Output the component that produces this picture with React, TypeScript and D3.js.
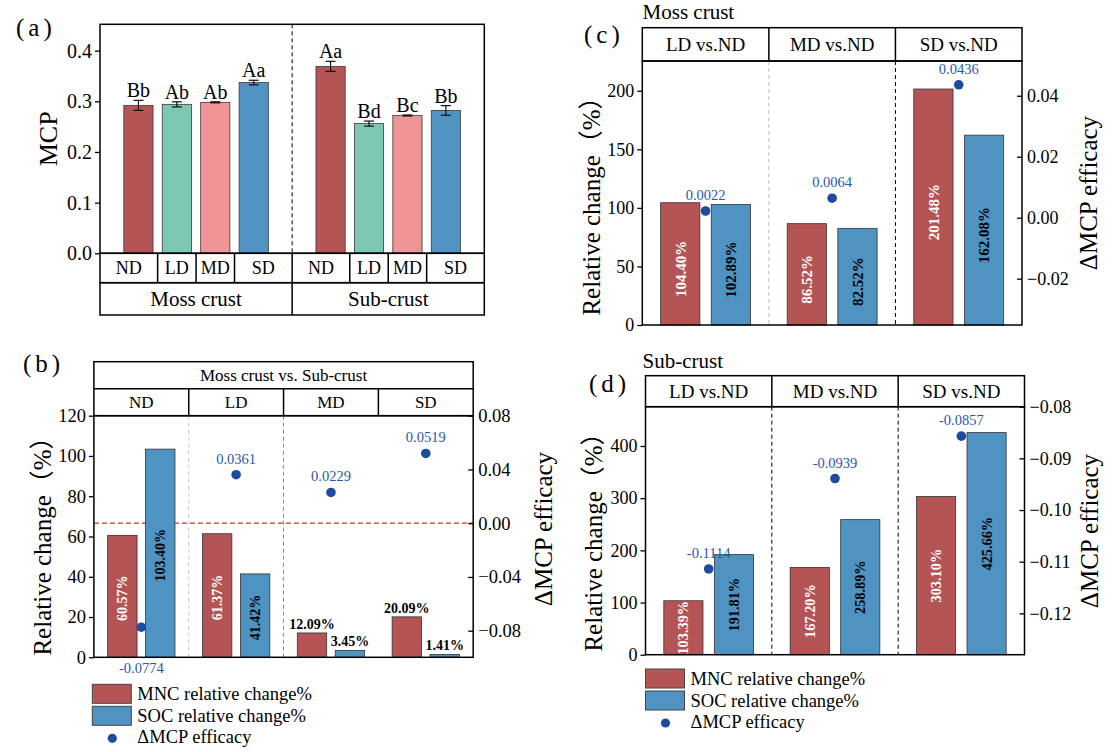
import { useEffect, useRef } from "react";
import * as d3 from "d3";

// (a) MCP by layer and treatment
const treatments = ["ND", "LD", "MD", "SD"];
const layers = ["Moss crust", "Sub-crust"];
const mcpMoss = [0.292, 0.294, 0.298, 0.337];
const mcpMossErr = [0.0099, 0.005, 0.001, 0.0045];
const mcpMossLetters = ["Bb", "Ab", "Ab", "Aa"];
const mcpSub = [0.369, 0.256, 0.272, 0.282];
const mcpSubErr = [0.0099, 0.005, 0.001, 0.0095];
const mcpSubLetters = ["Aa", "Bd", "Bc", "Bb"];

// (b) moss crust vs. sub-crust
const bGroups = ["ND", "LD", "MD", "SD"];
const bMnc = [60.57, 61.37, 12.09, 20.09];
const bSoc = [103.4, 41.42, 3.45, 1.41];
const bDelta = [-0.0774, 0.0361, 0.0229, 0.0519];

// (c) moss crust, (d) sub-crust
const contrasts = ["LD vs.ND", "MD vs.ND", "SD vs.ND"];
const cMnc = [104.4, 86.52, 201.48];
const cSoc = [102.89, 82.52, 162.08];
const cDelta = [0.0022, 0.0064, 0.0436];
const dMnc = [103.39, 167.2, 303.1];
const dSoc = [191.81, 258.89, 425.66];
const dDelta = [-0.1114, -0.0939, -0.0857];

const FONT = "'Liberation Serif', 'Times New Roman', 'Noto Sans CJK SC', serif";
const RED = "#b55455";
const TEAL = "#7cc8b2";
const PINK = "#f09495";
const BLUE = "#4f93c3";
const DOT = "#1d4c9e";
const DOT_TXT = "#2a58ac";
const TREAT_COLORS = [RED, TEAL, PINK, BLUE];

type G = d3.Selection<SVGGElement, unknown, null, undefined>;

function styleAxis(ax: G, size: number) {
  ax.select(".domain").remove();
  ax.selectAll("line").attr("stroke", "#000").attr("stroke-width", 1.3);
  ax.selectAll("text").attr("font-family", FONT).attr("font-size", size).attr("fill", "#000");
}

function panelLetter(g: G, text: string, x: number, y: number) {
  g.append("text").attr("x", x).attr("y", y).attr("font-size", 25)
    .attr("letter-spacing", 4).text(text);
}

function drawPanelA(g: G) {
  const L = 100, R = 484.3, T = 24.3, B = 253.3, row1 = 282.7, row2 = 315;
  const x = d3.scaleLinear().domain([0, 10]).range([L, R]);
  const y = d3.scaleLinear().domain([0, 0.452]).range([B, T]);
  const bw = (x(1) - x(0)) * 0.76;

  const bars = [
    ...mcpMoss.map((v, i) => ({ pos: i + 1, v, e: mcpMossErr[i], lab: mcpMossLetters[i], c: TREAT_COLORS[i] })),
    ...mcpSub.map((v, i) => ({ pos: i + 6, v, e: mcpSubErr[i], lab: mcpSubLetters[i], c: TREAT_COLORS[i] })),
  ];

  g.append("g").selectAll("rect").data(bars).join("rect")
    .attr("x", (d) => x(d.pos) - bw / 2).attr("y", (d) => y(d.v))
    .attr("width", bw).attr("height", (d) => B - y(d.v))
    .attr("fill", (d) => d.c).attr("stroke", "#3a3a3a").attr("stroke-width", 0.8);

  const eb = g.append("g").attr("stroke", "#111").attr("stroke-width", 1.2);
  bars.forEach((d) => {
    eb.append("line").attr("x1", x(d.pos)).attr("x2", x(d.pos)).attr("y1", y(d.v - d.e)).attr("y2", y(d.v + d.e));
    [d.v - d.e, d.v + d.e].forEach((v) =>
      eb.append("line").attr("x1", x(d.pos) - 5).attr("x2", x(d.pos) + 5).attr("y1", y(v)).attr("y2", y(v)));
  });

  g.append("g").selectAll("text").data(bars).join("text")
    .attr("x", (d) => x(d.pos)).attr("y", (d) => y(d.v + d.e) - 3)
    .attr("text-anchor", "middle").attr("font-size", 20).text((d) => d.lab);

  g.append("line").attr("x1", x(5)).attr("x2", x(5)).attr("y1", T).attr("y2", B)
    .attr("stroke", "#000").attr("stroke-dasharray", "4,3");

  g.append("rect").attr("x", L).attr("y", T).attr("width", R - L).attr("height", B - T)
    .attr("fill", "none").attr("stroke", "#000").attr("stroke-width", 1.5);

  const ax = g.append("g").attr("transform", `translate(${L},0)`)
    .call(d3.axisLeft(y).tickValues([0, 0.1, 0.2, 0.3, 0.4]).tickFormat(d3.format(".1f")).tickSize(5).tickPadding(3));
  styleAxis(ax, 20);

  // category rows
  const rows = g.append("g").attr("fill", "none").attr("stroke", "#000").attr("stroke-width", 1.5);
  rows.append("rect").attr("x", L).attr("y", B).attr("width", R - L).attr("height", row1 - B);
  rows.append("rect").attr("x", L).attr("y", row1).attr("width", R - L).attr("height", row2 - row1);
  const cuts = [0, 1.5, 2.5, 3.5, 5, 6.5, 7.5, 8.5, 10];
  cuts.slice(1, -1).forEach((c) =>
    rows.append("line").attr("x1", x(c)).attr("x2", x(c)).attr("y1", B).attr("y2", c === 5 ? row2 : row1));
  const cellLabels = [...treatments, ...treatments];
  cellLabels.forEach((t, i) =>
    g.append("text").attr("x", x((cuts[i] + cuts[i + 1]) / 2)).attr("y", (B + row1) / 2).attr("dy", "0.35em")
      .attr("text-anchor", "middle").attr("font-size", 18).text(t));
  layers.forEach((t, i) =>
    g.append("text").attr("x", x(i * 5 + 2.5)).attr("y", (row1 + row2) / 2).attr("dy", "0.35em")
      .attr("text-anchor", "middle").attr("font-size", 21).text(t));

  g.append("text").attr("transform", `translate(48,${(T + B) / 2}) rotate(-90)`).attr("dy", "0.35em")
    .attr("text-anchor", "middle").attr("font-size", 26).text("MCP");
  panelLetter(g, "(a)", 16, 36);
}

interface CompareCfg {
  left: number; right: number; headerTop: number; split?: number; top: number; bottom: number;
  groups: string[]; mnc: number[]; soc: number[]; delta: number[];
  yMax: number; leftTicks: number[];
  rDomain: [number, number]; rightTicks: number[];
  dividers: (string | null)[];
  zeroLine?: boolean;
  headerTitle?: string;
  panelTitle?: { text: string; x: number; y: number };
  letter: { text: string; x: number; y: number };
  leftTitle: { x: number; y: number };
  rightTitle: { x: number; y: number };
  tickFont: number; barFont: number; headerFont: number; barShift: number;
  labelBelowAxis?: number[];
}

function drawCompare(g: G, cfg: CompareCfg) {
  const { left: L, right: R, top: T, bottom: B } = cfg;
  const band = d3.scaleBand<string>().domain(cfg.groups).range([L, R]);
  const bw = band.bandwidth();
  const y = d3.scaleLinear().domain([0, cfg.yMax]).range([B, T]);
  const yr = d3.scaleLinear().domain(cfg.rDomain).range([B, T]);
  const barW = bw * 0.31;
  const gc = (gr: string) => (band(gr) ?? 0) + bw / 2;

  // dividers
  cfg.dividers.forEach((col, i) => {
    if (!col) return;
    const xx = band(cfg.groups[i + 1]) ?? 0;
    g.append("line").attr("x1", xx).attr("x2", xx).attr("y1", T).attr("y2", B)
      .attr("stroke", col).attr("stroke-dasharray", "4,3").attr("stroke-width", 1);
  });

  if (cfg.zeroLine) {
    g.append("line").attr("x1", L).attr("x2", R).attr("y1", yr(0)).attr("y2", yr(0))
      .attr("stroke", "#e0262a").attr("stroke-dasharray", "5,3").attr("stroke-width", 1.2);
  }

  const bars = [
    ...cfg.mnc.map((v, i) => ({ gr: cfg.groups[i], v, off: -0.2, fill: RED, txt: "#fff" })),
    ...cfg.soc.map((v, i) => ({ gr: cfg.groups[i], v, off: 0.2, fill: BLUE, txt: "#000" })),
  ];
  const cx = (d: { gr: string; off: number }) => gc(d.gr) + d.off * bw;

  g.append("g").selectAll("rect").data(bars).join("rect")
    .attr("x", (d) => cx(d) - barW / 2).attr("y", (d) => y(d.v))
    .attr("width", barW).attr("height", (d) => B - y(d.v))
    .attr("fill", (d) => d.fill).attr("stroke", "#333").attr("stroke-width", 0.8);

  const lab = (v: number) => `${v.toFixed(2)}%`;
  bars.forEach((d) => {
    const h = B - y(d.v);
    if (h > 48) {
      g.append("text").attr("transform", `translate(${cx(d)},${(B + y(d.v)) / 2 + cfg.barShift}) rotate(-90)`)
        .attr("dy", "0.35em").attr("text-anchor", "middle").attr("font-weight", "bold")
        .attr("font-size", cfg.barFont).attr("fill", d.txt).text(lab(d.v));
    } else {
      g.append("text").attr("x", cx(d)).attr("y", y(d.v) - 4).attr("text-anchor", "middle")
        .attr("font-weight", "bold").attr("font-size", cfg.barFont).attr("fill", "#000").text(lab(d.v));
    }
  });

  // delta MCP dots
  cfg.delta.forEach((v, i) => {
    const xx = gc(cfg.groups[i]);
    g.append("circle").attr("cx", xx).attr("cy", yr(v)).attr("r", 4.8).attr("fill", DOT);
    const below = cfg.labelBelowAxis?.includes(i);
    g.append("text").attr("x", xx).attr("y", below ? B + 16 : yr(v) - 11)
      .attr("text-anchor", "middle").attr("font-size", 14.5).attr("fill", DOT_TXT).text(v.toFixed(4));
  });

  // frame
  g.append("rect").attr("x", L).attr("y", T).attr("width", R - L).attr("height", B - T)
    .attr("fill", "none").attr("stroke", "#000").attr("stroke-width", 1.5);

  // header
  const hd = g.append("g").attr("fill", "none").attr("stroke", "#000").attr("stroke-width", 1.5);
  hd.append("rect").attr("x", L).attr("y", cfg.headerTop).attr("width", R - L).attr("height", T - cfg.headerTop);
  const rowTop = cfg.split ?? cfg.headerTop;
  if (cfg.split) hd.append("line").attr("x1", L).attr("x2", R).attr("y1", cfg.split).attr("y2", cfg.split);
  cfg.groups.slice(1).forEach((gr) => {
    const xx = band(gr) ?? 0;
    hd.append("line").attr("x1", xx).attr("x2", xx).attr("y1", rowTop).attr("y2", T);
  });
  if (cfg.headerTitle && cfg.split) {
    g.append("text").attr("x", (L + R) / 2).attr("y", (cfg.headerTop + cfg.split) / 2).attr("dy", "0.35em")
      .attr("text-anchor", "middle").attr("font-size", 17).text(cfg.headerTitle);
  }
  cfg.groups.forEach((gr) =>
    g.append("text").attr("x", gc(gr)).attr("y", (rowTop + T) / 2).attr("dy", "0.35em")
      .attr("text-anchor", "middle").attr("font-size", cfg.headerFont).text(gr));

  // axes
  const axL = g.append("g").attr("transform", `translate(${L},0)`)
    .call(d3.axisLeft(y).tickValues(cfg.leftTicks).tickFormat(d3.format("d")).tickSize(5).tickPadding(3));
  styleAxis(axL, cfg.tickFont);
  const axR = g.append("g").attr("transform", `translate(${R},0)`)
    .call(d3.axisRight(yr).tickValues(cfg.rightTicks).tickFormat(d3.format(".2f")).tickSize(-5).tickPadding(5));
  styleAxis(axR, cfg.tickFont);

  g.append("text").attr("transform", `translate(${cfg.leftTitle.x},${cfg.leftTitle.y}) rotate(-90)`)
    .attr("dy", "0.35em").attr("text-anchor", "middle").attr("font-size", 25).text("Relative change（%）");
  g.append("text").attr("transform", `translate(${cfg.rightTitle.x},${cfg.rightTitle.y}) rotate(-90)`)
    .attr("dy", "0.35em").attr("text-anchor", "middle").attr("font-size", 25).text("ΔMCP efficacy");

  panelLetter(g, cfg.letter.text, cfg.letter.x, cfg.letter.y);
  if (cfg.panelTitle) {
    g.append("text").attr("x", cfg.panelTitle.x).attr("y", cfg.panelTitle.y).attr("font-size", 21)
      .text(cfg.panelTitle.text);
  }
}

function drawLegend(g: G, x: number, y: number) {
  const items = [
    { t: "MNC relative change%", fill: RED },
    { t: "SOC relative change%", fill: BLUE },
  ];
  items.forEach((it, i) => {
    g.append("rect").attr("x", x).attr("y", y + i * 22).attr("width", 39).attr("height", 19)
      .attr("fill", it.fill).attr("stroke", "#444").attr("stroke-width", 1);
    g.append("text").attr("x", x + 45).attr("y", y + i * 22 + 16).attr("font-size", 18.5).text(it.t);
  });
  g.append("circle").attr("cx", x + 20).attr("cy", y + 54).attr("r", 4.6).attr("fill", DOT);
  g.append("text").attr("x", x + 45).attr("y", y + 59).attr("font-size", 18.5).text("ΔMCP efficacy");
}

export default function App() {
  const ref = useRef<SVGSVGElement | null>(null);

  useEffect(() => {
    if (!ref.current) return;
    const svg = d3.select(ref.current);
    svg.selectAll("*").remove();
    const root = svg.append("g").attr("font-family", FONT) as unknown as G;

    drawPanelA(root.append("g"));

    drawCompare(root.append("g"), {
      left: 93.9, right: 473.2, headerTop: 361.7, split: 388.7, top: 415.7, bottom: 657.3,
      groups: bGroups, mnc: bMnc, soc: bSoc, delta: bDelta,
      yMax: 120, leftTicks: [0, 20, 40, 60, 80, 100, 120],
      rDomain: [-0.0998, 0.08], rightTicks: [-0.08, -0.04, 0, 0.04, 0.08],
      dividers: ["#c8c8c8", "#8a8a8a", null], zeroLine: true,
      headerTitle: "Moss crust vs. Sub-crust",
      letter: { text: "(b)", x: 23, y: 372 },
      leftTitle: { x: 42, y: 540 }, rightTitle: { x: 543, y: 529 },
      tickFont: 18.5, barFont: 14, headerFont: 17, barShift: 2, labelBelowAxis: [0],
    });

    drawCompare(root.append("g"), {
      left: 642.3, right: 1022, headerTop: 27.7, top: 61, bottom: 325,
      groups: contrasts, mnc: cMnc, soc: cSoc, delta: cDelta,
      yMax: 225.4, leftTicks: [0, 50, 100, 150, 200],
      rDomain: [-0.0352, 0.0514], rightTicks: [-0.02, 0, 0.02, 0.04],
      dividers: ["#c0c0c0", "#000"],
      panelTitle: { text: "Moss crust", x: 642.6, y: 18.5 },
      letter: { text: "(c)", x: 584, y: 43 },
      leftTitle: { x: 591, y: 200 }, rightTitle: { x: 1088, y: 193 },
      tickFont: 18, barFont: 15, headerFont: 19, barShift: 5,
    });

    drawCompare(root.append("g"), {
      left: 645.5, right: 1024.5, headerTop: 375.7, top: 406.7, bottom: 654.7,
      groups: contrasts, mnc: dMnc, soc: dSoc, delta: dDelta,
      yMax: 475.3, leftTicks: [0, 100, 200, 300, 400],
      rDomain: [-0.128, -0.08], rightTicks: [-0.12, -0.11, -0.1, -0.09, -0.08],
      dividers: ["#000", "#000"],
      panelTitle: { text: "Sub-crust", x: 642.6, y: 368.3 },
      letter: { text: "(d)", x: 589, y: 392 },
      leftTitle: { x: 593, y: 536 }, rightTitle: { x: 1089, y: 531 },
      tickFont: 18, barFont: 14.3, headerFont: 19, barShift: 0,
    });

    drawLegend(root.append("g"), 92.3, 684.3);
    drawLegend(root.append("g"), 645.5, 669);
  }, []);

  return (
    <svg ref={ref} width={1116} height={752}
      style={{ position: "absolute", left: 0, top: 0, background: "#fff" }} />
  );
}
